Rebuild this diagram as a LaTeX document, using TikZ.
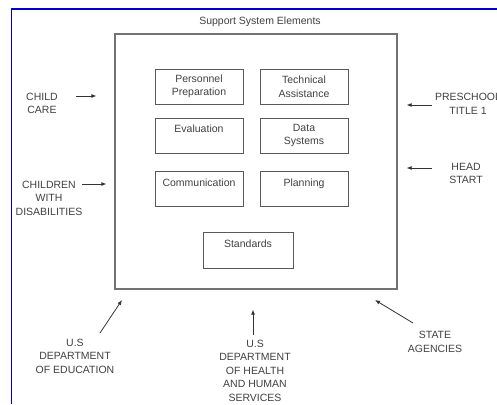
\documentclass[tikz,border=0pt]{standalone}
\usepackage{fontspec}
\setmainfont{Liberation Sans}
\usepackage{tikz}
\usetikzlibrary{arrows.meta,positioning}

\begin{document}
\begin{tikzpicture}[x=1pt, y=-1pt,
    lbl/.style={align=center, inner sep=0pt, text=black!75, font=\fontsize{10.5}{13.5}\selectfont},
    element/.style={lbl, draw=black!65, line width=0.9pt, minimum width=88pt, minimum height=35pt},
    frame/.style={draw=black!55, line width=1.3pt, minimum width=282pt, minimum height=255pt},
    arrow/.style={-{Latex[length=5pt,width=4pt]}, line width=0.8pt, draw=black!80}
  ]
    \useasboundingbox (0,0) rectangle (497,404);
    % screen border
    \draw[blue!80!black, line width=1.2pt] (11.5,404) -- (11.5,9) -- (497,9);
    \node[lbl] (title) at (260,22) {Support System Elements};
    \node[frame] (box) at (256,161.5) {};
    % support elements
    \node[element] (personnel) at (199,86.5) {Personnel\\Preparation};
    \node[element] (technical) at (304,86.5) {Technical\\Assistance};
    \node[element] (evaluation) at (199,135.5) {Evaluation\\~};
    \node[element] (data) at (304,135.5) {Data\\Systems};
    \node[element] (communication) at (199,189) {Communication\\~};
    \node[element] (planning) at (304,189) {Planning\\~};
    \node[element, minimum width=90pt, minimum height=36pt] (standards) at (248,250) {Standards\\~};
    % partners
    \node[lbl] (care) at (42,103.5) {CHILD\\CARE};
    \node[lbl] (disab) at (49,198) {CHILDREN\\WITH\\DISABILITIES};
    \node[lbl] (preschool) at (468,104) {PRESCHOOL\\TITLE 1};
    \node[lbl] (head) at (466,173.5) {HEAD\\START};
    \node[lbl] (edu) at (75,356) {U.S\\DEPARTMENT\\OF EDUCATION};
    \node[lbl] (hhs) at (255,370.5) {U.S\\DEPARTMENT\\OF HEALTH\\AND HUMAN\\SERVICES};
    \node[lbl] (state) at (435,342) {STATE\\AGENCIES};
    \coordinate (careArr) at (76,96);
    \coordinate (disabArr) at (82,184);
    \coordinate (preschoolArr) at (432,105);
    \coordinate (headArr) at (432,168);
    \coordinate (eduArr) at (100,333);
    \coordinate (eduTip) at (122,300);
    \coordinate (hhsArr) at (253,335);
    \coordinate (stateArr) at (413,323);
    \coordinate (stateTip) at (375,300);
    \draw[arrow, shorten >=18pt] (careArr) -- (careArr -| box.west);
    \draw[arrow, shorten >=8pt] (disabArr) -- (disabArr -| box.west);
    \draw[arrow, shorten >=9pt] (preschoolArr) -- (preschoolArr -| box.east);
    \draw[arrow, shorten >=9pt] (headArr) -- (headArr -| box.east);
    \draw[arrow] (eduArr) -- (eduTip);
    \draw[arrow, shorten >=20pt] (hhsArr) -- (hhsArr |- box.south);
    \draw[arrow] (stateArr) -- (stateTip);
  \end{tikzpicture}
\end{document}
